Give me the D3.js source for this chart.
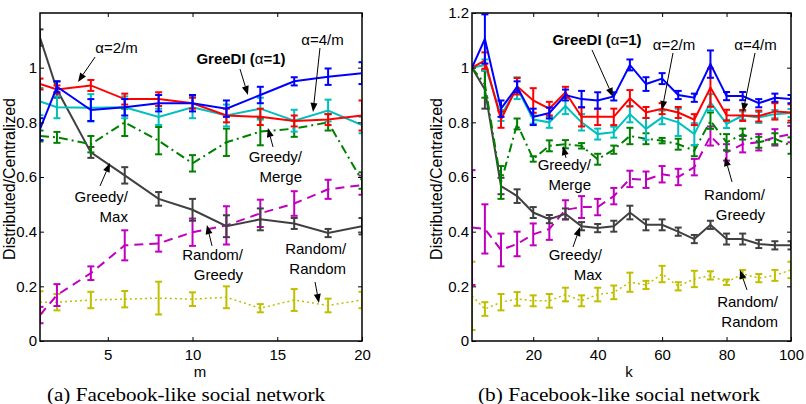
<!DOCTYPE html>
<html><head><meta charset="utf-8">
<script src="https://cdn.jsdelivr.net/npm/d3@7"></script>
<style>body{margin:0;background:#fff}svg{display:block}</style>
</head><body><svg id="c" width="806" height="404"></svg>
<script>
// ---------- data: panel (a) ----------
const mValues = [1, 2, 4, 6, 8, 10, 12, 14, 16, 18, 20];
const aGreeDI       = [0.775, 0.93, 0.845, 0.855, 0.87, 0.87, 0.85, 0.90, 0.95, 0.967, 0.98];
const aGreeDIErr    = [0.04, 0.02, 0.04, 0.03, 0.03, 0.03, 0.03, 0.03, 0.015, 0.03, 0.04];
const aAlpha2m      = [0.94, 0.92, 0.935, 0.885, 0.885, 0.87, 0.825, 0.82, 0.805, 0.81, 0.825];
const aAlpha2mErr   = [0.02, 0.015, 0.02, 0.02, 0.025, 0.02, 0.025, 0.03, 0.02, 0.02, 0.055];
const aAlpha4m      = [0.876, 0.855, 0.853, 0.855, 0.82, 0.855, 0.825, 0.85, 0.806, 0.843, 0.79];
const aAlpha4mErr   = [0.05, 0.04, 0.05, 0.04, 0.03, 0.04, 0.04, 0.04, 0.04, 0.04, 0.03];
const aGreedyMerge    = [0.75, 0.745, 0.72, 0.80, 0.733, 0.65, 0.727, 0.766, 0.777, 0.80, 0.587];
const aGreedyMergeErr = [0.02, 0.02, 0.03, 0.05, 0.05, 0.03, 0.05, 0.05, 0.03, 0.03, 0.03];
const aGreedyMax    = [1.11, 0.92, 0.69, 0.606, 0.52, 0.48, 0.42, 0.445, 0.43, 0.395, 0.42];
const aGreedyMaxErr = [0.03, 0.03, 0.02, 0.03, 0.025, 0.04, 0.04, 0.04, 0.02, 0.015, 0.03];
const aRandGreedy    = [0.095, 0.168, 0.248, 0.35, 0.357, 0.398, 0.423, 0.467, 0.503, 0.555, 0.57];
const aRandGreedyErr = [0.03, 0.04, 0.025, 0.055, 0.03, 0.05, 0.07, 0.05, 0.045, 0.035, 0.035];
const aRandRand    = [0.142, 0.142, 0.15, 0.153, 0.157, 0.153, 0.16, 0.12, 0.15, 0.13, 0.15];
const aRandRandErr = [0.04, 0.03, 0.03, 0.03, 0.06, 0.025, 0.04, 0.015, 0.04, 0.025, 0.03];

// ---------- data: panel (b) ----------
const kValues = [1, 5, 10, 15, 20, 25, 30, 35, 40, 45, 50, 55, 60, 65, 70, 75, 80, 85, 90, 95, 100];
const bGreeDI       = [1.0, 1.105, 0.85, 0.93, 0.82, 0.834, 0.90, 0.885, 0.88, 0.895, 1.01, 0.94, 0.96, 0.90, 0.89, 1.013, 0.896, 0.896, 0.87, 0.89, 0.885];
const bGreeDIErr    = [0, 0.09, 0.03, 0.02, 0.03, 0.02, 0.02, 0.03, 0.03, 0.015, 0.02, 0.025, 0.02, 0.015, 0.015, 0.05, 0.015, 0.015, 0.015, 0.015, 0.015];
const bAlpha2m      = [1.0, 1.026, 0.81, 0.932, 0.88, 0.85, 0.91, 0.82, 0.82, 0.82, 0.888, 0.836, 0.85, 0.836, 0.81, 0.927, 0.826, 0.825, 0.823, 0.84, 0.836];
const bAlpha2mErr   = [0, 0.03, 0.03, 0.03, 0.045, 0.025, 0.02, 0.035, 0.03, 0.03, 0.03, 0.02, 0.02, 0.02, 0.02, 0.07, 0.02, 0.02, 0.02, 0.03, 0.03];
const bAlpha4m      = [1.0, 1.01, 0.825, 0.925, 0.81, 0.80, 0.86, 0.80, 0.757, 0.764, 0.83, 0.776, 0.818, 0.80, 0.757, 0.873, 0.794, 0.825, 0.818, 0.83, 0.834];
const bAlpha4mErr   = [0, 0.02, 0.02, 0.04, 0.015, 0.02, 0.03, 0.03, 0.02, 0.02, 0.03, 0.04, 0.025, 0.05, 0.04, 0.03, 0.015, 0.015, 0.02, 0.015, 0.015];
const bGreedyMerge    = [1.0, 0.94, 0.58, 0.794, 0.666, 0.714, 0.72, 0.714, 0.665, 0.70, 0.75, 0.74, 0.733, 0.72, 0.696, 0.806, 0.727, 0.757, 0.727, 0.74, 0.715];
const bGreedyMergeErr = [0, 0.05, 0.06, 0.02, 0.01, 0.02, 0.015, 0.01, 0.02, 0.015, 0.03, 0.02, 0.01, 0.02, 0.02, 0.03, 0.03, 0.02, 0.02, 0.02, 0.03];
const bGreedyMax    = [1.0, 0.92, 0.567, 0.53, 0.47, 0.446, 0.465, 0.42, 0.413, 0.42, 0.47, 0.425, 0.425, 0.40, 0.373, 0.425, 0.373, 0.373, 0.355, 0.35, 0.35];
const bGreedyMaxErr = [0, 0.07, 0.03, 0.025, 0.02, 0.015, 0.02, 0.015, 0.015, 0.02, 0.025, 0.02, 0.02, 0.015, 0.015, 0.015, 0.02, 0.02, 0.015, 0.015, 0.015];
const bRandGreedy    = [0.415, 0.41, 0.333, 0.355, 0.39, 0.41, 0.48, 0.49, 0.49, 0.53, 0.593, 0.59, 0.61, 0.60, 0.636, 0.75, 0.69, 0.72, 0.727, 0.745, 0.757];
const bRandGreedyErr = [0.21, 0.09, 0.06, 0.045, 0.04, 0.04, 0.035, 0.04, 0.03, 0.03, 0.03, 0.03, 0.03, 0.03, 0.03, 0.035, 0.03, 0.03, 0.03, 0.03, 0.03];
const bRandRand    = [0.165, 0.117, 0.142, 0.154, 0.147, 0.147, 0.17, 0.147, 0.17, 0.178, 0.215, 0.205, 0.245, 0.20, 0.227, 0.24, 0.215, 0.245, 0.23, 0.24, 0.26];
const bRandRandErr = [0.125, 0.025, 0.03, 0.025, 0.02, 0.025, 0.025, 0.02, 0.025, 0.025, 0.035, 0.015, 0.03, 0.015, 0.03, 0.015, 0.01, 0.015, 0.015, 0.02, 0.03];

// ---------- ticks & texts ----------
const aXTicks = [5, 10, 15, 20];
const aYTicks = [0, 0.2, 0.4, 0.6, 0.8, 1];
const bXTicks = [20, 40, 60, 80, 100];
const bYTicks = [0, 0.2, 0.4, 0.6, 0.8, 1, 1.2];
const yLabel = "Distributed/Centralized";
const aXLabel = "m";
const bXLabel = "k";
const aCaption = "(a) Facebook-like social network";
const bCaption = "(b) Facebook-like social network";

// ---------- styles ----------
const styles = {
  randRand:    {color: "#bfbf00", dash: "2,3", width: 1.5},
  randGreedy:  {color: "#bf00bf", dash: "9,6", width: 2},
  greedyMax:   {color: "#404040", dash: null, width: 2},
  greedyMerge: {color: "#008000", dash: "9,4,2,4", width: 2},
  alpha4m:     {color: "#00bfbf", dash: null, width: 2},
  alpha2m:     {color: "#ff0000", dash: null, width: 2},
  greeDI:      {color: "#0000ff", dash: null, width: 2}
};

const svg = d3.select("#c");
const SANS = "'Liberation Sans', Arial, Helvetica, sans-serif";
const FS = 15;

function drawPanel(cfg) {
  const x = d3.scaleLinear().domain(cfg.xDomain).range([cfg.left, cfg.right]);
  const y = d3.scaleLinear().domain([0, 1.2]).range([cfg.bottom, cfg.top]);
  const g = svg.append("g");
  const clipId = "clip" + cfg.id;
  svg.append("defs").append("clipPath").attr("id", clipId)
    .append("rect").attr("x", cfg.left).attr("y", cfg.top)
    .attr("width", cfg.right - cfg.left).attr("height", cfg.bottom - cfg.top);
  const plot = g.append("g").attr("clip-path", `url(#${clipId})`);

  cfg.series.forEach(s => {
    const st = styles[s.style];
    const pts = cfg.xs.map((xv, i) => ({x: xv, y: s.values[i], e: s.err[i]}));
    const sg = plot.append("g");
    sg.append("path").datum(pts)
      .attr("d", d3.line().x(d => x(d.x)).y(d => y(d.y)))
      .attr("fill", "none").attr("stroke", st.color)
      .attr("stroke-width", st.width)
      .attr("stroke-dasharray", st.dash);
    const eb = sg.selectAll("g.eb").data(pts.filter(d => d.e > 0)).join("g");
    const cw = 3.5;
    eb.append("line").attr("x1", d => x(d.x)).attr("x2", d => x(d.x))
      .attr("y1", d => y(d.y - d.e)).attr("y2", d => y(d.y + d.e));
    eb.append("line").attr("x1", d => x(d.x) - cw).attr("x2", d => x(d.x) + cw)
      .attr("y1", d => y(d.y - d.e)).attr("y2", d => y(d.y - d.e));
    eb.append("line").attr("x1", d => x(d.x) - cw).attr("x2", d => x(d.x) + cw)
      .attr("y1", d => y(d.y + d.e)).attr("y2", d => y(d.y + d.e));
    eb.selectAll("line").attr("stroke", st.color).attr("stroke-width", 2);
  });

  g.append("rect").attr("x", cfg.left).attr("y", cfg.top)
    .attr("width", cfg.right - cfg.left).attr("height", cfg.bottom - cfg.top)
    .attr("fill", "none").attr("stroke", "#000").attr("stroke-width", 1.5);

  const tl = 4;
  const axB = d3.axisBottom(x).tickValues(cfg.xTicks).tickSizeInner(-tl).tickSizeOuter(0).tickPadding(8);
  const axT = d3.axisTop(x).tickValues(cfg.xTicks).tickSizeInner(-tl).tickSizeOuter(0).tickFormat("");
  const axL = d3.axisLeft(y).tickValues(cfg.yTicks).tickSizeInner(-tl).tickSizeOuter(0).tickPadding(3)
    .tickFormat(d => String(+d.toFixed(1)));
  const axR = d3.axisRight(y).tickValues(cfg.yTicks).tickSizeInner(-tl).tickSizeOuter(0).tickFormat("");
  const axes = [
    g.append("g").attr("transform", `translate(0,${cfg.bottom})`).call(axB),
    g.append("g").attr("transform", `translate(0,${cfg.top})`).call(axT),
    g.append("g").attr("transform", `translate(${cfg.left},0)`).call(axL),
    g.append("g").attr("transform", `translate(${cfg.right},0)`).call(axR)
  ];
  axes.forEach(a => {
    a.select(".domain").remove();
    a.selectAll(".tick line").attr("stroke", "#000").attr("stroke-width", 1);
    a.selectAll("text").attr("font-family", SANS).attr("font-size", FS).attr("fill", "#000");
  });

  g.append("text").attr("x", cfg.xLabelX).attr("y", 377).attr("text-anchor", "middle")
    .attr("font-family", SANS).attr("font-size", FS).text(cfg.xLabel);
  g.append("text").attr("transform", `translate(${cfg.yLabelX},179) rotate(-90)`)
    .attr("text-anchor", "middle").attr("font-family", SANS).attr("font-size", 16).text(yLabel);
  g.append("text").attr("x", cfg.capX).attr("y", 401).attr("text-anchor", "middle")
    .attr("font-family", "'Liberation Serif', 'DejaVu Serif', serif").attr("font-size", 18)
    .attr("textLength", cfg.capW).attr("lengthAdjust", "spacingAndGlyphs").text(cfg.caption);

  cfg.notes.forEach(n => {
    const t = g.append("text").attr("font-family", SANS).attr("font-size", FS).attr("fill", "#000")
      .attr("text-anchor", n.anchor);
    n.lines.forEach((ln, i) => {
      const ts = t.append("tspan").attr("x", x(n.tx)).attr("y", y(n.ty) + i * 20);
      if (n.bold) {
        const parts = ln.split("α");
        ts.append("tspan").attr("font-weight", "bold").text(parts[0]);
        ts.append("tspan").text("α");
        ts.append("tspan").attr("font-weight", "bold").text(parts[1]);
      } else ts.text(ln);
    });
    const x1 = x(n.ax1), y1 = y(n.ay1), x2 = x(n.ax2), y2 = y(n.ay2);
    const ang = Math.atan2(y2 - y1, x2 - x1);
    const hl = 9, hw = 3.5;
    const bx = x2 - hl * Math.cos(ang), by = y2 - hl * Math.sin(ang);
    g.append("line").attr("x1", x1).attr("y1", y1).attr("x2", bx).attr("y2", by)
      .attr("stroke", "#000").attr("stroke-width", 1);
    const px = -Math.sin(ang), py = Math.cos(ang);
    g.append("path").attr("d", `M${x2},${y2}L${bx + px * hw},${by + py * hw}L${bx - px * hw},${by - py * hw}Z`)
      .attr("fill", "#000");
  });
}

drawPanel({
  id: "a", xs: mValues, xDomain: [1, 20], left: 40, right: 362, top: 13, bottom: 341,
  xTicks: aXTicks, yTicks: aYTicks, xLabel: aXLabel, xLabelX: 200, yLabelX: 15,
  caption: aCaption, capX: 186, capW: 278,
  series: [
    {values: aRandRand, err: aRandRandErr, style: "randRand"},
    {values: aRandGreedy, err: aRandGreedyErr, style: "randGreedy"},
    {values: aGreedyMax, err: aGreedyMaxErr, style: "greedyMax"},
    {values: aGreedyMerge, err: aGreedyMergeErr, style: "greedyMerge"},
    {values: aAlpha4m, err: aAlpha4mErr, style: "alpha4m"},
    {values: aAlpha2m, err: aAlpha2mErr, style: "alpha2m"},
    {values: aGreeDI, err: aGreeDIErr, style: "greeDI"}
  ],
  notes: [
    {lines: ["α=2/m"], anchor: "middle", tx: 5.51, ty: 1.054, ax1: 4.25, ay1: 1.039, ax2: 3.24, ay2: 0.948},
    {lines: ["GreeDI (α=1)"], bold: true, anchor: "middle", tx: 12.86, ty: 1.013, ax1: 12.8, ay1: 0.995, ax2: 13.27, ay2: 0.90},
    {lines: ["α=4/m"], anchor: "middle", tx: 17.67, ty: 1.083, ax1: 17.52, ay1: 1.072, ax2: 17.11, ay2: 0.838},
    {lines: ["Greedy/", "Merge"], anchor: "end", tx: 16.46, ty: 0.655, ax1: 14.75, ay1: 0.71, ax2: 14.45, ay2: 0.779},
    {lines: ["Greedy/", "Max"], anchor: "end", tx: 6.19, ty: 0.509, ax1: 4.54, ay1: 0.567, ax2: 5.13, ay2: 0.651},
    {lines: ["Random/", "Greedy"], anchor: "end", tx: 12.98, ty: 0.296, ax1: 11.15, ay1: 0.348, ax2: 10.85, ay2: 0.424},
    {lines: ["Random/", "Random"], anchor: "end", tx: 19.06, ty: 0.318, ax1: 17.23, ay1: 0.216, ax2: 17.46, ay2: 0.139}
  ]
});

drawPanel({
  id: "b", xs: kValues, xDomain: [1, 100], left: 472, right: 791, top: 13, bottom: 341,
  xTicks: bXTicks, yTicks: bYTicks, xLabel: bXLabel, xLabelX: 629, yLabelX: 442,
  caption: bCaption, capX: 619, capW: 282,
  series: [
    {values: bRandRand, err: bRandRandErr, style: "randRand"},
    {values: bRandGreedy, err: bRandGreedyErr, style: "randGreedy"},
    {values: bGreedyMax, err: bGreedyMaxErr, style: "greedyMax"},
    {values: bGreedyMerge, err: bGreedyMergeErr, style: "greedyMerge"},
    {values: bAlpha4m, err: bAlpha4mErr, style: "alpha4m"},
    {values: bAlpha2m, err: bAlpha2mErr, style: "alpha2m"},
    {values: bGreeDI, err: bGreeDIErr, style: "greeDI"}
  ],
  notes: [
    {lines: ["GreeDI (α=1)"], bold: true, anchor: "middle", tx: 39.79, ty: 1.083, ax1: 38.24, ay1: 1.065, ax2: 44.76, ay2: 0.893},
    {lines: ["α=2/m"], anchor: "middle", tx: 63.69, ty: 1.065, ax1: 63.38, ay1: 1.054, ax2: 59.97, ay2: 0.845},
    {lines: ["α=4/m"], anchor: "middle", tx: 88.98, ty: 1.065, ax1: 88.83, ay1: 1.054, ax2: 85.1, ay2: 0.838},
    {lines: ["Greedy/", "Merge"], anchor: "end", tx: 37.93, ty: 0.626, ax1: 30.17, ay1: 0.67, ax2: 29.24, ay2: 0.713},
    {lines: ["Greedy/", "Max"], anchor: "end", tx: 41.34, ty: 0.296, ax1: 32.35, ay1: 0.344, ax2: 34.52, ay2: 0.417},
    {lines: ["Random/", "Greedy"], anchor: "end", tx: 91.93, ty: 0.516, ax1: 81.69, ay1: 0.582, ax2: 79.52, ay2: 0.673},
    {lines: ["Random/", "Random"], anchor: "end", tx: 95.97, ty: 0.124, ax1: 86.34, ay1: 0.187, ax2: 84.17, ay2: 0.26}
  ]
});
</script>
</body></html>
